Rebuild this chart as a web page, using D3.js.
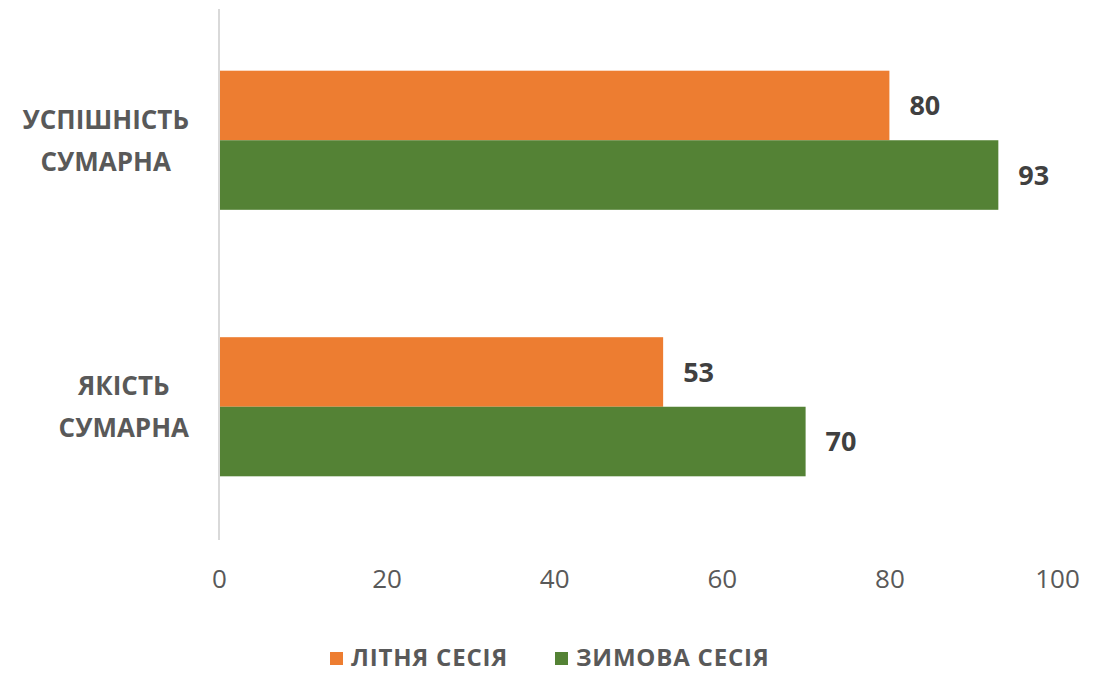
<!DOCTYPE html>
<html><head><meta charset="utf-8">
<script src="https://cdn.jsdelivr.net/npm/d3@7"></script>
<style>body{margin:0;background:#fff}svg{display:block}</style>
</head><body>
<script>
const categories = [["УСПІШНІСТЬ","СУМАРНА"],["ЯКІСТЬ","СУМАРНА"]];
const categoryKeys = ["УСПІШНІСТЬ СУМАРНА","ЯКІСТЬ СУМАРНА"];
const seriesNames = ["ЛІТНЯ СЕСІЯ","ЗИМОВА СЕСІЯ"];
const summerValues = [80, 53];
const winterValues = [93, 70];
const xTicks = [0,20,40,60,80,100];
const colors = ["#ED7D31","#548235"];

const W=1107,H=673;
const svg=d3.select("body").append("svg").attr("width",W).attr("height",H);
const font="'Open Sans', sans-serif";
const x=d3.scaleLinear().domain([0,100]).range([219,1057]);
const y=d3.scaleBand().domain(categoryKeys).range([7,540]).paddingInner(0.478).paddingOuter(0.239);
const ys=d3.scaleBand().domain(seriesNames).range([0,y.bandwidth()]);
const allValues=[summerValues,winterValues];

// axis line
svg.append("line").attr("x1",x(0)).attr("x2",x(0)).attr("y1",9).attr("y2",540)
  .attr("stroke","#d9d9d9").attr("stroke-width",2);

// bars
seriesNames.forEach((s,si)=>{
  categoryKeys.forEach((c,ci)=>{
    const v=allValues[si][ci];
    const y0=y(c)+ys(s);
    svg.append("rect").attr("x",x(0)+1).attr("y",y0).attr("width",x(v)-x(0)-1).attr("height",ys.bandwidth())
      .attr("fill",colors[si]);
    svg.append("text").attr("x",x(v)+20).attr("y",y0+ys.bandwidth()/2).attr("dy","0.36em")
      .attr("font-family",font).attr("font-weight","bold").attr("font-size",27).attr("fill","#404040")
      .text(v);
  });
});

// x tick labels
const xAxis=d3.axisBottom(x).tickValues(xTicks).tickSize(0).tickPadding(0);
const gx=svg.append("g").attr("transform","translate(0,570)").call(xAxis);
gx.select(".domain").remove();
gx.selectAll("text").attr("font-family",font).attr("font-size",26).attr("fill","#595959").attr("dy","0.71em").attr("y",0);

// category labels
categoryKeys.forEach((c,ci)=>{
  const lines=categories[ci];
  const cy=y(c)+y.bandwidth()/2;
  const g=svg.append("g");
  const ts=lines.map((l,li)=>g.append("text").attr("y",cy+(li-0.5)*42).attr("dy","0.36em")
    .attr("font-family",font).attr("font-weight","bold").attr("font-size",26).attr("fill","#595959")
    .attr("text-anchor","middle").text(l));
  const maxW=d3.max(ts,t=>t.node().getComputedTextLength());
  ts.forEach(t=>t.attr("x",189-maxW/2));
});

// legend
const leg=svg.append("g");
const legX=[330,555];
seriesNames.forEach((s,si)=>{
  leg.append("rect").attr("x",legX[si]).attr("y",652).attr("width",13).attr("height",13).attr("fill",colors[si]);
  leg.append("text").attr("x",legX[si]+21).attr("y",657).attr("dy","0.36em")
    .attr("font-family",font).attr("font-weight","bold").attr("font-size",24).attr("letter-spacing",0.8)
    .attr("fill","#595959").text(s);
});
</script>
</body></html>
